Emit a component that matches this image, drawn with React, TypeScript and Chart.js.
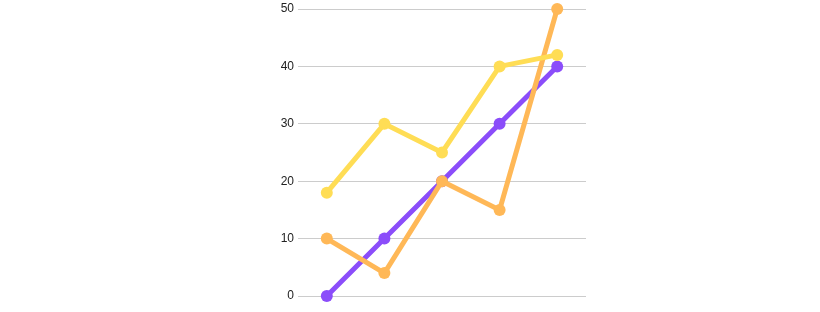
import React, { useEffect, useRef } from "react";
import { Chart, registerables } from "chart.js";

Chart.register(...registerables);

const categories = ["A", "B", "C", "D", "E"];
const purpleValues = [0, 10, 20, 30, 40];
const orangeValues = [10, 4, 20, 15, 50];
const yellowValues = [18, 30, 25, 40, 42];
const yTicks = [0, 10, 20, 30, 40, 50];

export default function App() {
  const ref = useRef<HTMLCanvasElement | null>(null);
  useEffect(() => {
    if (!ref.current) return;
    const mk = (data: number[], color: string) => ({
      data,
      borderColor: color,
      backgroundColor: color,
      pointBackgroundColor: color,
      pointBorderColor: color,
      borderWidth: 5,
      pointRadius: 6,
      pointBorderWidth: 0,
      tension: 0,
      clip: false as any,
    });
    const chart = new Chart(ref.current, {
      type: "line",
      data: {
        labels: categories,
        datasets: [
          mk(yellowValues, "#FFDD55"),
          mk(orangeValues, "#FFB857"),
          mk(purpleValues, "#8B4DFA"),
        ],
      },
      options: {
        animation: false,
        responsive: false,
        maintainAspectRatio: false,
        layout: { padding: { left: 270, right: 234, top: 9, bottom: 16 } },
        plugins: { legend: { display: false }, tooltip: { enabled: false } },
        scales: {
          x: { display: false, offset: true },
          y: {
            min: 0,
            max: 50,
            afterFit: (s: any) => {
              s.width = 28;
              s.paddingTop = 0;
              s.paddingBottom = 0;
            },
            afterBuildTicks: (s: any) => { s.ticks = yTicks.map((v) => ({ value: v })); },
            border: { display: false },
            grid: { color: "#cccccc", drawTicks: false, lineWidth: 1 },
            ticks: {
              padding: 4,
              color: "#222222",
              font: { family: "Liberation Sans, Arial, sans-serif", size: 12 },
            },
          },
        },
      },
    });
    return () => chart.destroy();
  }, []);
  return (
    <div style={{ position: "absolute", left: 0, top: 0, width: 820, height: 312 }}>
      <canvas ref={ref} width={820} height={312} style={{ width: 820, height: 312 }} />
    </div>
  );
}
